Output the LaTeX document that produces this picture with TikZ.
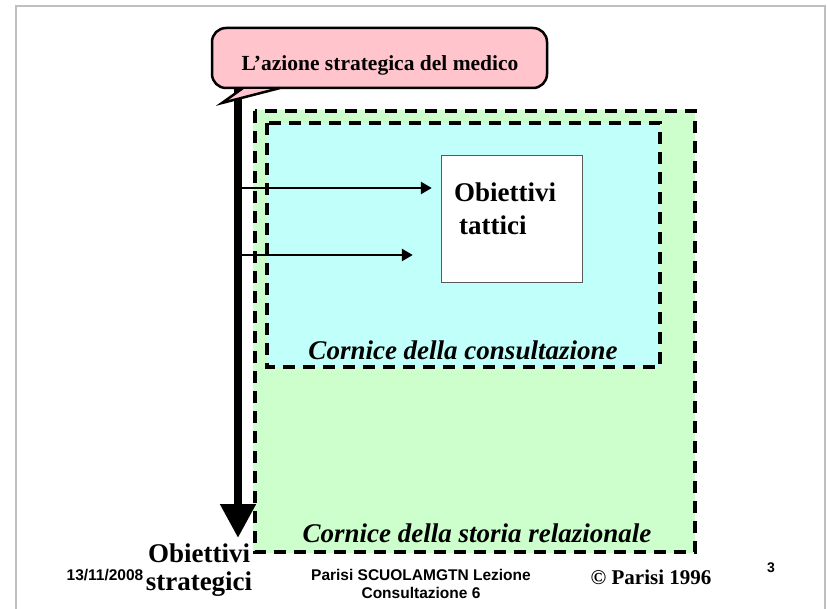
\documentclass[tikz,border=0pt]{standalone}
\usepackage{fontspec}
\setmainfont{Liberation Serif}
\newfontfamily\footsans{Liberation Sans}
\usetikzlibrary{arrows.meta, positioning}
\definecolor{calloutpink}{RGB}{255,196,204}
\definecolor{storiagreen}{RGB}{204,255,204}
\definecolor{consulcyan}{RGB}{192,255,250}

\begin{document}
\begin{tikzpicture}[x=1pt,y=-1pt,
  frame/.style={draw, line width=3.5pt, dash pattern=on 12pt off 8pt},
  cornice/.style={font=\fontsize{27}{29}\selectfont\bfseries\itshape},
  obiettivi/.style={font=\fontsize{27}{28}\selectfont\bfseries},
  footer/.style={font=\footsans\bfseries\fontsize{15.5}{18}\selectfont, align=center},
  thinarrow/.style={-{Triangle[length=11pt,width=12pt]}, line width=2.5pt},
  bigarrow/.style={-{Triangle[length=34pt,width=34pt]}, line width=8pt}]

  \useasboundingbox (0,0) rectangle (827,609);
  \draw[black!25, line width=1.5pt] (16,609) -- (16,6) -- (825,6) -- (825,609);

  % cornici
  \fill[storiagreen] (253,110) rectangle (695,553);
  \draw[frame] (255,111) rectangle (695,552);
  \fill[consulcyan] (267,123) rectangle (660,367);
  \draw[frame] (267,123) rectangle (660,367);

  \node[draw=black!65, fill=white, minimum width=141pt, minimum height=127pt] (tattici) at (511.5,218.5) {};
  \node[obiettivi, align=left, anchor=north west, inner sep=0pt] (tattlabel) at (454,183)
        {Obiettivi\\[5pt]\hspace{5pt}tattici};

  % asse strategico
  \coordinate (top) at (238,88);
  \coordinate (tip) at (238,538);
  \draw[bigarrow] (top) -- (tip);

  % fumetto
  \node[draw, line width=2.5pt, fill=calloutpink, rounded corners=14pt,
        minimum width=335pt, minimum height=60pt] (azione) at (379.5,58) {};
  \coordinate (tailL) at (243,88);
  \coordinate (tailR) at (280,88);
  \coordinate (tailtip) at (222,103);
  \fill[calloutpink] ([yshift=-1.5pt]tailL) -- (tailtip) -- ([yshift=-1.5pt]tailR) -- cycle;
  \draw[line width=2.5pt, line join=miter] (tailL) -- (tailtip) -- (tailR);
  \node[font=\fontsize{21.5}{24}\selectfont\bfseries] (azionetxt) at (380,65)
        {L’azione strategica del medico};

  \coordinate (a1) at (240,188);
  \coordinate (a2) at (240,255);
  \draw[thinarrow, shorten >=9pt] (a1) -- (a1 -| tattici.west);
  \draw[thinarrow, shorten >=28pt] (a2) -- (a2 -| tattici.west);

  \node[cornice] (consul) at (463,350) {Cornice della consultazione};
  \node[cornice] (storia) at (477,533) {Cornice della storia relazionale};

  \node[obiettivi, align=center] (strat) at (199,570) {Obiettivi\\strategici};

  % pie di pagina
  \node[footer] (data) at (105,575) {13/11/2008};
  \node[footer] (corso) at (421,584) {Parisi SCUOLAMGTN Lezione\\Consultazione 6};
  \node[font=\fontsize{21}{24}\selectfont\bfseries] (copy) at (651,577) {© Parisi 1996};
  \node[font=\footsans\bfseries\fontsize{14}{16}\selectfont] (pagina) at (771,568) {3};
\end{tikzpicture}
\end{document}
